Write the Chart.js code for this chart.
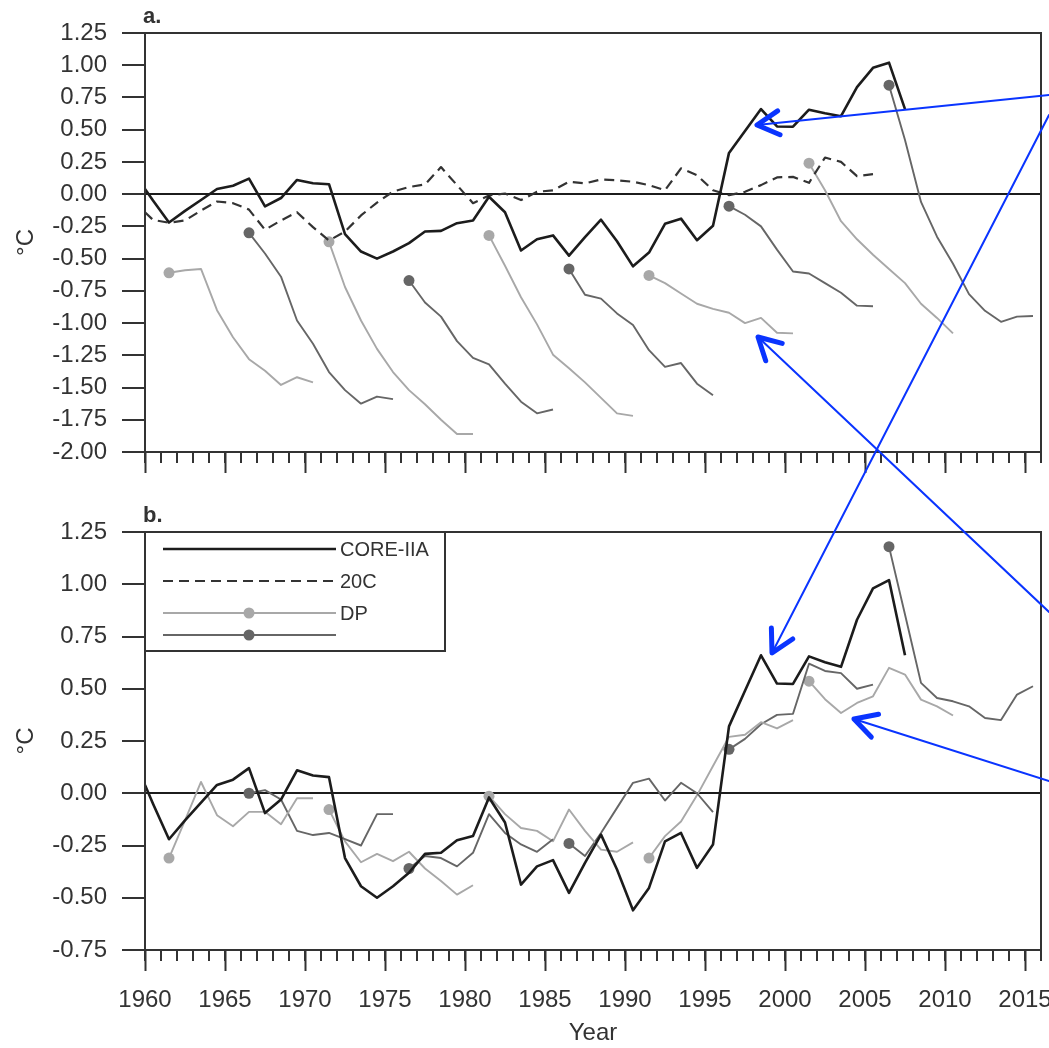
<!DOCTYPE html>
<html>
<head>
<meta charset="utf-8">
<script src="https://cdn.jsdelivr.net/npm/chart.js@4.4.0/dist/chart.umd.min.js"></script>
<style>
  html, body { margin: 0; padding: 0; background: #fff; }
  #wrap { position: relative; width: 1049px; height: 1048px; overflow: hidden; }
  #wrap canvas { position: absolute; left: 0; }
  #chartA { top: 0; }
  #chartB { top: 500px; }
  #arrows { top: 0; pointer-events: none; }
</style>
</head>
<body>
<div id="wrap">
  <canvas id="chartA" width="1049" height="500"></canvas>
  <canvas id="chartB" width="1049" height="548"></canvas>
  <canvas id="arrows" width="1049" height="1048"></canvas>
</div>
<script>
// tick labels
var xTicks = [1960, 1965, 1970, 1975, 1980, 1985, 1990, 1995, 2000, 2005, 2010, 2015];
var yTicksA = [-2.0, -1.75, -1.5, -1.25, -1.0, -0.75, -0.5, -0.25, 0, 0.25, 0.5, 0.75, 1.0, 1.25];
var yTicksB = [-0.75, -0.5, -0.25, 0, 0.25, 0.5, 0.75, 1.0, 1.25];

// CORE-IIA (same curve in both panels)
var coreYears = [1960, 1960.5, 1961.5, 1962.5, 1963.5, 1964.5, 1965.5, 1966.5, 1967.5, 1968.5, 1969.5,
  1970.5, 1971.5, 1972.5, 1973.5, 1974.5, 1975.5, 1976.5, 1977.5, 1978.5, 1979.5,
  1980.5, 1981.5, 1982.5, 1983.5, 1984.5, 1985.5, 1986.5, 1987.5, 1988.5, 1989.5,
  1990.5, 1991.5, 1992.5, 1993.5, 1994.5, 1995.5, 1996.5, 1997.5, 1998.5, 1999.5,
  2000.5, 2001.5, 2002.5, 2003.5, 2004.5, 2005.5, 2006.5, 2007.5];
var coreVals = [0.04, -0.05, -0.22, -0.13, -0.045, 0.04, 0.065, 0.12, -0.095, -0.03, 0.11,
  0.085, 0.077, -0.31, -0.445, -0.50, -0.445, -0.38, -0.29, -0.285, -0.225,
  -0.205, -0.02, -0.14, -0.437, -0.35, -0.32, -0.477, -0.333, -0.198, -0.365,
  -0.56, -0.453, -0.23, -0.19, -0.357, -0.245, 0.32, 0.49, 0.66, 0.525,
  0.523, 0.655, 0.627, 0.605, 0.83, 0.98, 1.02, 0.66];

// 20C (panel a only)
var c20Years = [1960, 1960.5, 1961.5, 1962.5, 1963.5, 1964.5, 1965.5, 1966.5, 1967.5, 1968.5, 1969.5,
  1970.5, 1971.5, 1972.5, 1973.5, 1974.5, 1975.5, 1976.5, 1977.5, 1978.5, 1979.5,
  1980.5, 1981.5, 1982.5, 1983.5, 1984.5, 1985.5, 1986.5, 1987.5, 1988.5, 1989.5,
  1990.5, 1991.5, 1992.5, 1993.5, 1994.5, 1995.5, 1996.5, 1997.5, 1998.5, 1999.5,
  2000.5, 2001.5, 2002.5, 2003.5, 2004.5, 2005.5];
var c20Vals = [-0.14, -0.20, -0.222, -0.204, -0.127, -0.057, -0.07, -0.12, -0.276, -0.204, -0.14,
  -0.256, -0.36, -0.29, -0.165, -0.065, 0.02, 0.055, 0.075, 0.21, 0.07,
  -0.07, -0.01, 0.005, -0.046, 0.018, 0.03, 0.096, 0.083, 0.114, 0.108,
  0.096, 0.07, 0.03, 0.20, 0.147, 0.03, -0.008, 0.018, 0.07, 0.13,
  0.134, 0.088, 0.284, 0.25, 0.14, 0.155];

// DP hindcasts, 10 years each, starting at these years
var dpStarts = [1961.5, 1966.5, 1971.5, 1976.5, 1981.5, 1986.5, 1991.5, 1996.5, 2001.5, 2006.5];

// panel a: raw hindcasts
var dpRaw = [
  [-0.61, -0.59, -0.58, -0.90, -1.11, -1.28, -1.37, -1.48, -1.42, -1.46],
  [-0.30, -0.46, -0.64, -0.98, -1.16, -1.38, -1.52, -1.625, -1.57, -1.59],
  [-0.37, -0.72, -0.98, -1.20, -1.38, -1.52, -1.63, -1.75, -1.86, -1.86],
  [-0.67, -0.84, -0.95, -1.14, -1.27, -1.32, -1.47, -1.61, -1.70, -1.67],
  [-0.32, -0.555, -0.80, -1.01, -1.245, -1.35, -1.46, -1.58, -1.70, -1.72],
  [-0.58, -0.78, -0.81, -0.925, -1.015, -1.21, -1.34, -1.31, -1.47, -1.56],
  [-0.63, -0.69, -0.77, -0.85, -0.89, -0.92, -1.00, -0.96, -1.075, -1.08],
  [-0.093, -0.16, -0.25, -0.43, -0.60, -0.615, -0.69, -0.765, -0.865, -0.87],
  [0.24, 0.03, -0.21, -0.35, -0.47, -0.58, -0.69, -0.85, -0.96, -1.08],
  [0.845, 0.42, -0.06, -0.33, -0.54, -0.775, -0.905, -0.99, -0.95, -0.945]
];

// panel b: drift-corrected hindcasts
var dpCorr = [
  [-0.31, -0.13, 0.054, -0.105, -0.158, -0.089, -0.089, -0.148, -0.024, -0.024],
  [0.0, 0.015, -0.03, -0.18, -0.20, -0.19, -0.22, -0.25, -0.10, -0.10],
  [-0.078, -0.23, -0.33, -0.29, -0.325, -0.28, -0.36, -0.42, -0.485, -0.44],
  [-0.36, -0.30, -0.31, -0.35, -0.285, -0.10, -0.19, -0.245, -0.28, -0.22],
  [-0.014, -0.10, -0.166, -0.18, -0.23, -0.078, -0.18, -0.27, -0.28, -0.235],
  [-0.24, -0.30, -0.19, -0.07, 0.05, 0.07, -0.035, 0.05, 0.0, -0.09],
  [-0.31, -0.205, -0.135, -0.01, 0.13, 0.27, 0.28, 0.34, 0.31, 0.35],
  [0.21, 0.26, 0.33, 0.375, 0.38, 0.62, 0.585, 0.575, 0.50, 0.52],
  [0.536, 0.45, 0.384, 0.432, 0.464, 0.60, 0.568, 0.448, 0.416, 0.372],
  [1.18, 0.855, 0.528, 0.456, 0.44, 0.416, 0.36, 0.35, 0.472, 0.512]
];

var FONT = "'Liberation Sans', Arial, Helvetica, sans-serif";
var ink = '#333333';
var coreColor = '#1c1c1c';
var lightGray = '#a8a8a8';
var darkGray = '#666666';
var blue = '#0a34ff';

Chart.defaults.font.family = FONT;
Chart.defaults.color = ink;

function pts(xs, ys) {
  return ys.map(function(v, i) { return { x: xs[i], y: v }; });
}
function run(start, vals) {
  return vals.map(function(v, i) { return { x: start + i, y: v }; });
}

function buildDatasets(dp, with20c) {
  var ds = [{
    label: 'CORE-IIA', data: pts(coreYears, coreVals),
    borderColor: coreColor, borderWidth: 2.6, pointRadius: 0
  }];
  if (with20c) {
    ds.push({
      label: '20C', data: pts(c20Years, c20Vals),
      borderColor: ink, borderWidth: 2.2, borderDash: [10, 6], pointRadius: 0
    });
  }
  dp.forEach(function(vals, k) {
    var c = k % 2 === 0 ? lightGray : darkGray;
    ds.push({
      label: 'DP', data: run(dpStarts[k], vals),
      borderColor: c, backgroundColor: c, borderWidth: 1.9,
      pointRadius: function(ctx) { return ctx.dataIndex === 0 ? 5.5 : 0; },
      pointBorderWidth: 0
    });
  });
  return ds;
}

// frame, minor year ticks, panel letter, legend
var decor = {
  id: 'decor',
  afterDraw: function(chart, args, opts) {
    var c = chart.ctx, a = chart.chartArea, xs = chart.scales.x;
    c.save();
    c.strokeStyle = ink;
    c.lineWidth = 2;
    c.strokeRect(a.left, a.top, a.right - a.left, a.bottom - a.top);

    c.beginPath();
    for (var yr = 1960; yr <= 2016; yr++) {
      var px = Math.round(xs.getPixelForValue(yr));
      c.moveTo(px, a.bottom);
      c.lineTo(px, a.bottom + 11);
    }
    c.stroke();

    c.fillStyle = ink;
    c.font = 'bold 22px ' + FONT;
    c.textAlign = 'left';
    c.textBaseline = 'alphabetic';
    c.fillText(opts.letter, a.left - 2, a.top - 10);

    if (opts.legend) {
      var L = a.left, T = a.top;
      c.fillStyle = '#fff';
      c.fillRect(L, T, 300, 119);
      c.strokeStyle = ink;
      c.lineWidth = 2;
      c.strokeRect(L, T, 300, 119);
      var rows = [
        { dy: 17, color: coreColor, w: 2.4, dash: [], dot: false, text: 'CORE-IIA' },
        { dy: 49, color: ink, w: 2.2, dash: [10, 6], dot: false, text: '20C' },
        { dy: 81, color: lightGray, w: 1.9, dash: [], dot: true, text: 'DP' },
        { dy: 103, color: darkGray, w: 1.9, dash: [], dot: true, text: '' }
      ];
      rows.forEach(function(r) {
        var y = T + r.dy;
        c.strokeStyle = r.color;
        c.lineWidth = r.w;
        c.setLineDash(r.dash);
        c.beginPath();
        c.moveTo(L + 18, y);
        c.lineTo(L + 191, y);
        c.stroke();
        c.setLineDash([]);
        if (r.dot) {
          c.fillStyle = r.color;
          c.beginPath();
          c.arc(L + 104, y, 5.5, 0, Math.PI * 2);
          c.fill();
        }
        if (r.text) {
          c.fillStyle = ink;
          c.font = '20px ' + FONT;
          c.textBaseline = 'middle';
          c.fillText(r.text, L + 195, y + 1);
        }
      });
    }
    c.restore();
  }
};

function makeChart(id, dp, with20c, yTicks, ymin, opts) {
  return new Chart(document.getElementById(id), {
    type: 'line',
    data: { datasets: buildDatasets(dp, with20c) },
    plugins: [decor],
    options: {
      responsive: false,
      devicePixelRatio: 1,
      animation: false,
      events: [],
      layout: { padding: { top: opts.padTop, right: 8, left: 0, bottom: 0 } },
      elements: { line: { tension: 0, borderJoinStyle: 'round' } },
      plugins: {
        legend: { display: false },
        tooltip: { enabled: false },
        decor: { letter: opts.letter, legend: opts.legend }
      },
      scales: {
        x: {
          type: 'linear', min: 1960, max: 2016,
          afterBuildTicks: function(s) { s.ticks = xTicks.map(function(v) { return { value: v }; }); },
          afterFit: function(s) {
            s.height = opts.xHeight;
            s.paddingLeft = 0;
            s.paddingRight = 0;
          },
          ticks: {
            display: opts.xLabels, autoSkip: false, maxRotation: 0, padding: 15,
            font: { size: 24 }, color: ink,
            callback: function(v) { return String(v); }
          },
          grid: { drawOnChartArea: false, tickLength: 21, tickWidth: 2, tickColor: ink },
          border: { display: true, color: ink, width: 2 },
          title: {
            display: opts.xLabels, text: 'Year', color: ink,
            font: { size: 24 }, padding: { top: 0, bottom: 0 }
          }
        },
        y: {
          min: ymin, max: 1.25,
          afterBuildTicks: function(s) { s.ticks = yTicks.map(function(v) { return { value: v }; }); },
          afterFit: function(s) { s.width = 145; },
          ticks: {
            padding: 15, font: { size: 24 }, color: ink,
            callback: function(v) { return Number(v).toFixed(2); }
          },
          grid: {
            color: function(ctx) { return ctx.tick && ctx.tick.value === 0 ? '#1c1c1c' : 'rgba(0,0,0,0)'; },
            lineWidth: 2, tickLength: 23, tickWidth: 2, tickColor: ink
          },
          border: { display: true, color: ink, width: 2 },
          title: {
            display: true, text: '°C', color: ink,
            font: { size: 24 }, padding: { top: 12, bottom: 0 }
          }
        }
      }
    }
  });
}

makeChart('chartA', dpRaw, true, yTicksA, -2.0,
  { padTop: 33, xHeight: 48, xLabels: false, letter: 'a.', legend: false });
makeChart('chartB', dpCorr, false, yTicksB, -0.75,
  { padTop: 32, xHeight: 98, xLabels: true, letter: 'b.', legend: true });

// blue annotation arrows laid over both panels
var arrowSpecs = [
  { from: [1049, 95], to: [757, 125] },
  { from: [1049, 115], to: [772, 653] },
  { from: [1049, 612], to: [758, 337] },
  { from: [1049, 781], to: [854, 719] }
];
(function drawArrows() {
  var c = document.getElementById('arrows').getContext('2d');
  c.strokeStyle = blue;
  c.lineCap = 'round';
  c.lineJoin = 'round';
  arrowSpecs.forEach(function(a) {
    var dx = a.from[0] - a.to[0], dy = a.from[1] - a.to[1];
    var ang = Math.atan2(dy, dx);
    c.lineWidth = 2;
    c.beginPath();
    c.moveTo(a.from[0], a.from[1]);
    c.lineTo(a.to[0], a.to[1]);
    c.stroke();
    c.lineWidth = 5;
    c.beginPath();
    var len = 25, spread = 0.5;
    c.moveTo(a.to[0] + len * Math.cos(ang - spread), a.to[1] + len * Math.sin(ang - spread));
    c.lineTo(a.to[0], a.to[1]);
    c.lineTo(a.to[0] + len * Math.cos(ang + spread), a.to[1] + len * Math.sin(ang + spread));
    c.stroke();
  });
})();
</script>
</body>
</html>
